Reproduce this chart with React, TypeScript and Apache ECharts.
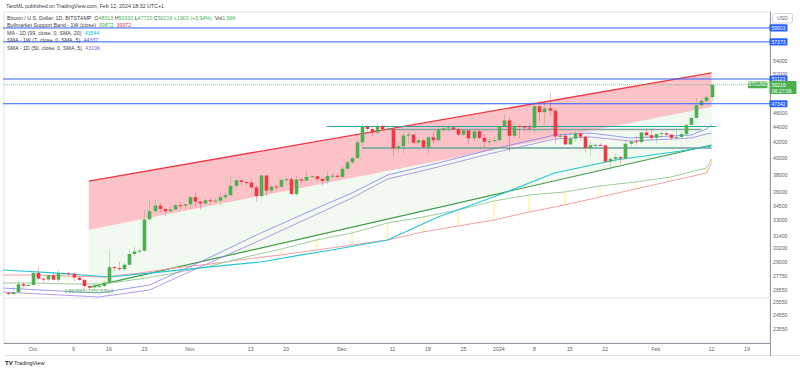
import React, { useEffect, useRef } from 'react';
import * as echarts from 'echarts';

// ---- Candles: daily BTCUSD (Bitstamp), Sep 26 2023 .. Feb 12 2024. Day 0 = Oct 1 2023
const FIRST_DAY = -5;
const opens = [26300,26220,26370,27030,26910,
  26970,27990,27500,27430,27790,27410,27940,27970,27930,27590,27390,26870,26760,26860,26860,27160,28510,28420,28320,28720,29680,29920,29990,33060,33910,34500,34150,33900,34090,34540,34500,
  34650,35420,34940,34730,35080,35040,35040,35420,35640,36690,37310,37130,37060,36500,35550,37880,36160,36600,36580,37370,37450,35760,37420,37290,37720,37800,37480,37260,37830,37860,
  37720,38690,39460,39980,41990,44080,43770,43290,44170,43720,43790,41240,41480,42890,43020,41940,42260,41370,42660,42270,43660,43860,43990,43740,43010,43590,42510,43450,42580,42070,42140,
  42280,44180,44950,42850,44170,44160,43970,43930,46970,46120,46660,46340,42780,42850,41730,42500,43150,42740,41270,41620,41660,41590,39550,39890,40100,39930,41810,42120,42030,43300,42940,
  42580,43080,43200,43010,42580,42700,43090,44340,45300,47130,47770,48313];
const closes = [26220,26370,27030,26910,26970,
  27990,27500,27430,27790,27410,27940,27970,27930,27590,27390,26870,26760,26860,26860,27160,28510,28420,28320,28720,29680,29920,29990,33060,33910,34500,34150,33900,34090,34540,34500,34650,
  35420,34940,34730,35080,35040,35040,35420,35640,36690,37310,37130,37060,36500,35550,37880,36160,36600,36580,37370,37450,35760,37420,37290,37720,37800,37480,37260,37830,37860,37720,
  38690,39460,39980,41990,44080,43770,43290,44170,43720,43790,41240,41480,42890,43020,41940,42260,41370,42660,42270,43660,43860,43990,43740,43010,43590,42510,43450,42580,42070,42140,42280,
  44180,44950,42850,44170,44160,43970,43930,46970,46120,46660,46340,42780,42850,41730,42500,43150,42740,41270,41620,41660,41590,39550,39890,40100,39930,41810,42120,42030,43300,42940,42580,
  43080,43200,43010,42580,42700,43090,44340,45300,47130,47770,48313,50216];
const highs = [26390,26830,27300,27230,27090,
  28070,28590,27670,27830,28120,28290,28020,28110,27990,27730,27480,26940,27100,26980,27280,30000,28600,28960,28900,30200,30340,30200,34000,35200,35110,34800,34240,34460,34740,34860,34700,
  35580,35980,34950,35280,35390,35280,35900,35990,37930,37520,37400,37220,37420,36760,37980,37930,36750,36850,37520,37760,37650,37880,37650,38420,37900,37830,37580,38400,38160,38150,
  38990,39680,40190,42400,44490,44300,44050,44700,44360,44040,43810,42100,43430,43400,43090,42700,42420,42750,43480,44270,44220,44400,44020,43950,43780,43600,43680,43790,43130,42590,42880,
  44200,45900,45500,44770,44360,44200,44500,47250,47900,47700,48970,46510,43260,43090,43360,43560,43200,42930,42170,41860,41880,41670,40110,40510,40280,42210,42200,42840,43320,43880,43750,
  43270,43480,43380,43120,43540,43400,44360,45600,48200,48180,48600,50333];
const lows = [26100,26120,26340,26680,26890,
  26960,27340,27160,27230,27370,27190,27870,27690,27300,27300,26560,26560,26700,26820,26820,27120,28100,28170,28200,28650,29470,29680,29880,32850,33670,33780,33400,33880,34050,34080,34070,
  34110,34350,34100,34580,34600,34750,34530,35120,35540,36350,36730,36750,36360,34950,35360,35540,35880,36210,36400,36950,35750,35650,36870,37250,37620,37150,36750,36900,37620,37520,
  37620,38650,39300,39970,41420,43400,42850,43080,43590,43580,40250,40690,40600,41800,41680,41690,41250,40530,41820,42200,43330,43400,43610,42780,42740,41670,42120,42310,41320,41550,41990,
  42170,44170,40750,42630,42500,43410,43580,43200,44800,44330,45610,41760,42440,41720,41700,42050,42200,40680,40280,41420,41500,39450,38550,39500,39280,39830,41400,41620,41800,42700,42300,
  41880,42580,42890,42260,42260,42580,42790,44330,45250,46820,47560,47720];

// ---- Axes
const xTickDays = [0, 8, 15, 22, 31, 43, 50, 61, 71, 78, 85, 92, 99, 106, 113, 123, 134, 141];
const xTickLabels = ['Oct', '9', '16', '23', 'Nov', '13', '20', 'Dec', '11', '18', '25', '2024', '8', '15', '22', 'Feb', '12', '19'];
const yTickPrices = [54000, 52000, 50000, 46000, 44000, 42000, 40000, 38000, 36000, 34500, 33000, 31400, 30200, 29000, 27750, 26550, 25550, 24550, 23550];

// ---- Levels
const levelPrices = [59903, 57373, 51123, 47342];
const lastPrice = 50216;
const lastTime = '06:27:09';
const greyLinePrice = 25896;

// ---- Regression channel
const regDays = [11, 134];
const regUpper = [37230, 52110];
const regBase = [32000, 46880];
const regLower = [26770, 41650];
const pearson = '0.8605661295030514';

// ---- Indicators
const ma99Days = [-6, 5, 15, 25, 33, 45, 53, 59, 70, 80, 92, 103, 115, 128, 134];
const ma99Vals = [28250, 27980, 27640, 28070, 28430, 28960, 29600, 30060, 31010, 33300, 35660, 38180, 39750, 40880, 41544];
const smaWDays = [-6, 13, 23, 33, 45, 57, 63, 70, 80, 90, 103, 110, 118, 130, 133, 134];
const smaWVals = [26710, 26300, 26960, 28960, 31690, 34460, 35880, 37940, 39380, 41010, 42960, 43230, 42560, 42960, 43770, 44337];
const sma50Days = [-6, 13, 23, 33, 45, 57, 63, 70, 80, 90, 103, 110, 118, 130, 133, 134];
const sma50Vals = [26380, 25980, 26550, 28520, 31010, 33820, 35330, 37470, 38900, 40500, 42430, 42700, 42170, 42560, 43100, 43196];
const bandDays = [-7, 0, 7, 14, 21, 28, 35, 42, 49, 56, 63, 70, 77, 84, 91, 98, 105, 112, 119, 126, 133, 134];
const bandGreen = [27130, 27130, 27050, 27050, 27470, 27980, 28600, 29410, 30150, 31010, 31690, 32690, 33300, 34040, 35000, 35660, 35990, 36670, 37130, 37710, 38780, 39872];
const bandRed = [27810, 27810, 27730, 27640, 27980, 28430, 28780, 29230, 29600, 30060, 30530, 31010, 31790, 32390, 32990, 33820, 34570, 35440, 36330, 37240, 38180, 39372];

// ---- Drawn horizontal lines
const hLineFrom = [58, 70, 65];
const hLineTo = [135, 132, 134];
const hLinePrices = [44110, 43700, 41260];

const FONT = '"Liberation Sans", Arial, sans-serif';
const GREEN = '#4caf50';
const RED = '#f23645';
const BLUE = '#2962ff';
const X_MIN = -5.727, X_MAX = 145.54;
const Y_MIN = 10.0221, Y_MAX = 11.05005;
const ln = Math.log;
const pairs = (d: number[], v: number[]) => d.map((x, i) => [x, ln(v[i])]);

function buildOption(): any {
  const candleData = opens.map((o, i) => [FIRST_DAY + i, ln(o), ln(closes[i]), ln(lows[i]), ln(highs[i])]);
  const lineBase = { type: 'line', symbol: 'none', silent: true, z: 2 };
  const hLineColors = ['#26a69a', '#7fa9a2', '#6aa398'];
  const hLineWidths = [1.2, 1.5, 1.6];
  return {
    animation: false,
    backgroundColor: '#ffffff',
    textStyle: { fontFamily: FONT },
    grid: { left: 4, right: 30, top: 12, bottom: 27, show: true, borderColor: '#e0e3eb', borderWidth: 1 },
    xAxis: {
      type: 'value', min: X_MIN, max: X_MAX,
      axisLine: { show: true, onZero: false, lineStyle: { color: '#9598a1' } },
      axisTick: { show: false }, splitLine: { show: false },
      axisLabel: {
        customValues: xTickDays, fontSize: 5.2, color: '#5d606b', margin: 3, fontFamily: FONT,
        formatter: (v: number) => { const k = xTickDays.indexOf(Math.round(v)); return k >= 0 ? xTickLabels[k] : ''; },
      },
    },
    yAxis: {
      type: 'value', position: 'right', min: Y_MIN, max: Y_MAX,
      axisLine: { show: true, onZero: false, lineStyle: { color: '#9598a1' } },
      axisTick: { show: false }, splitLine: { show: false },
      axisLabel: {
        customValues: yTickPrices.map(ln), fontSize: 5.2, color: '#5d606b', margin: 3, fontFamily: FONT,
        formatter: (v: number) => String(Math.round(Math.exp(v))),
      },
    },
    series: [
      {
        type: 'custom', name: 'regFill', silent: true, z: 1, clip: true,
        encode: { x: 0, y: 1 },
        data: [[regDays[0], ln(regBase[0])]],
        renderItem: (_p: any, api: any) => {
          const pt = (d: number, p: number) => api.coord([d, ln(p)]);
          const u0 = pt(regDays[0], regUpper[0]), u1 = pt(regDays[1], regUpper[1]);
          const b0 = pt(regDays[0], regBase[0]), b1 = pt(regDays[1], regBase[1]);
          const l0 = pt(regDays[0], regLower[0]), l1 = pt(regDays[1], regLower[1]);
          return {
            type: 'group',
            children: [
              { type: 'polygon', shape: { points: [u0, u1, b1, b0] }, style: { fill: 'rgba(242,54,69,0.3)' } },
              { type: 'polygon', shape: { points: [b0, b1, l1, l0] }, style: { fill: 'rgba(76,175,80,0.08)' } },
            ],
          };
        },
      },
      { ...lineBase, name: 'regUpper', z: 2, lineStyle: { color: RED, width: 1.3 }, data: pairs(regDays, regUpper) },
      {
        ...lineBase, name: 'regLower', showSymbol: true,
        lineStyle: { color: '#3f9d43', width: 1.2 },
        data: [
          { value: [regDays[0], ln(regLower[0])], symbol: 'circle', symbolSize: 0.1, itemStyle: { color: '#3f9d43' },
            label: { show: true, position: 'bottom', distance: 1.5, formatter: pearson, color: '#4caf50', fontSize: 5, fontFamily: FONT } },
          [regDays[1], ln(regLower[1])],
        ],
      },
      {
        ...lineBase, name: 'greyLine', z: 1,
        lineStyle: { color: '#e3e5ea', width: 1 },
        data: [[X_MIN - 1, ln(greyLinePrice)], [X_MAX + 1, ln(greyLinePrice)]],
      },
      // bull market support band
      { ...lineBase, name: 'bandRed', lineStyle: { color: '#f4a0a0', width: 1 }, data: pairs(bandDays, bandRed) },
      { ...lineBase, name: 'bandGreen', lineStyle: { color: '#9ccf9c', width: 1 }, data: pairs(bandDays, bandGreen) },
      {
        type: 'custom', name: 'bandFill', silent: true, z: 2, clip: true,
        encode: { x: 0, y: [1, 2] },
        data: bandDays.map((d, i) => [d, ln(bandGreen[i]), ln(bandRed[i])]),
        renderItem: (_p: any, api: any) => {
          const a = api.coord([api.value(0), api.value(1)]);
          const b = api.coord([api.value(0), api.value(2)]);
          return { type: 'line', shape: { x1: a[0], y1: a[1], x2: b[0], y2: b[1] }, style: { stroke: 'rgba(255,235,100,0.55)', lineWidth: 1.6 } };
        },
      },
      { ...lineBase, name: 'ma99', lineStyle: { color: '#26c6da', width: 1.2 }, data: pairs(ma99Days, ma99Vals) },
      { ...lineBase, name: 'smaW', lineStyle: { color: '#8a8af2', width: 1, opacity: 0.85 }, data: pairs(smaWDays, smaWVals) },
      { ...lineBase, name: 'sma50', lineStyle: { color: '#a58be0', width: 1, opacity: 0.85 }, data: pairs(sma50Days, sma50Vals) },
      ...hLinePrices.map((p, i) => ({
        ...lineBase, name: 'h' + i, z: 3,
        lineStyle: { color: hLineColors[i], width: hLineWidths[i] },
        data: [[hLineFrom[i], ln(p)], [hLineTo[i], ln(p)]],
      })),
      {
        type: 'custom', name: 'candles', silent: true, z: 4, clip: true,
        encode: { x: 0, y: [1, 2, 3, 4] },
        data: candleData,
        renderItem: (_p: any, api: any) => {
          const d = api.value(0);
          const o = api.value(1), c = api.value(2), l = api.value(3), h = api.value(4);
          const po = api.coord([d, o]);
          const yc = api.coord([d, c])[1];
          const yl = api.coord([d, l])[1];
          const yh = api.coord([d, h])[1];
          const color = c >= o ? GREEN : RED;
          const x = Math.round(po[0]) + 0.5;
          const top = Math.min(po[1], yc);
          const hgt = Math.max(Math.abs(po[1] - yc), 1);
          return {
            type: 'group',
            children: [
              { type: 'line', shape: { x1: x, y1: yh, x2: x, y2: yl }, style: { stroke: color, lineWidth: 1, opacity: 0.35 } },
              { type: 'rect', shape: { x: x - 1.8, y: top, width: 3.6, height: hgt }, style: { fill: color } },
            ],
          };
        },
      },
      // current price line (dotted)
      {
        ...lineBase, name: 'last', z: 5,
        lineStyle: { color: GREEN, type: 'dotted', width: 1, opacity: 0.7 },
        data: [[X_MIN - 1, ln(lastPrice)], [X_MAX + 1, ln(lastPrice)]],
      },
      // blue horizontal levels
      ...levelPrices.map((p, i) => ({
        ...lineBase, name: 'lvl' + i, z: 6,
        lineStyle: { color: BLUE, width: 1, type: 'solid', opacity: 1 },
        data: [[X_MIN - 1, ln(p)], [X_MAX + 1, ln(p)]],
      })),
    ],
  };
}

function buildGraphics(yLevels: number[], yCur: number): any[] {
  const base = { fontFamily: FONT, fontSize: 5.3, fill: '#3a3d46', verticalAlign: 'middle' };
  const rich = {
    g: { fill: '#3a3d46', fontSize: 5.3, fontFamily: FONT },
    v: { fill: GREEN, fontSize: 5.3, fontFamily: FONT },
    r: { fill: RED, fontSize: 5.3, fontFamily: FONT },
    c: { fill: '#00bcd4', fontSize: 5.3, fontFamily: FONT },
    p: { fill: '#5b5bd6', fontSize: 5.3, fontFamily: FONT },
    q: { fill: '#8e63d8', fontSize: 5.3, fontFamily: FONT },
  };
  const legend = [
    'Bitcoin / U.S. Dollar, 1D, BITSTAMP  {g|O}{v|48313} {g|H}{v|50333} {g|L}{v|47720} {g|C}{v|50216} {v|+1903 (+3.94%)}  {g|Vol}{v|1.96K}',
    'Bullmarket Support Band - 1W (close)  {v|39872}  {r|39372}',
    'MA - 1D (99, close, 0, SMA, 20)  {c|41544}',
    'SMA - 1W (7, close, 0, SMA, 5)  {p|44337}',
    'SMA - 1D (50, close, 0, SMA, 5)  {q|43196}',
  ];
  const legendY = [17.7, 25, 32.7, 40.2, 47.7];
  const levelBoxes = yLevels.flatMap((y, i) => [
    { type: 'rect', z: 100, shape: { x: 769.5, y: y - 3.6, width: 18, height: 7.2, r: 1 }, style: { fill: BLUE } },
    { type: 'text', z: 101, x: 778.5, y: y + 0.2, style: { text: String(levelPrices[i]), fontFamily: FONT, fontSize: 5, fill: '#ffffff', align: 'center', verticalAlign: 'middle' } },
  ]);
  return [
    { type: 'text', x: 6, y: 6, z: 100, style: { ...base, text: 'TaroML published on TradingView.com, Feb 12, 2024 18:32 UTC+1' } },
    ...legend.map((t, i) => ({ type: 'text', x: 7, y: legendY[i], z: 100, style: { ...base, text: t, rich } })),
    { type: 'rect', z: 100, shape: { x: 772.5, y: 13.5, width: 20, height: 9.5, r: 2 }, style: { fill: '#fff', stroke: '#d1d4dc', lineWidth: 1 } },
    { type: 'text', z: 101, x: 782.5, y: 18.3, style: { text: 'USD', fontFamily: FONT, fontSize: 5, fill: '#5d606b', align: 'center', verticalAlign: 'middle' } },
    ...levelBoxes,
    { type: 'rect', z: 100, shape: { x: 769.5, y: yCur - 3.8, width: 27, height: 13, r: 1 }, style: { fill: GREEN } },
    { type: 'text', z: 101, x: 772, y: yCur, style: { text: String(lastPrice), fontFamily: FONT, fontSize: 5, fill: '#ffffff', verticalAlign: 'middle' } },
    { type: 'text', z: 101, x: 772, y: yCur + 5.8, style: { text: lastTime, fontFamily: FONT, fontSize: 5, fill: '#ffffff', verticalAlign: 'middle' } },
    { type: 'rect', z: 100, shape: { x: 748, y: yCur - 3.3, width: 19.5, height: 6.8, r: 1 }, style: { fill: GREEN } },
    { type: 'text', z: 101, x: 757.8, y: yCur + 0.2, style: { text: 'BTCUSD', fontFamily: FONT, fontSize: 4.6, fill: '#ffffff', align: 'center', verticalAlign: 'middle' } },
    { type: 'line', z: 100, shape: { x1: 4, y1: 355.5, x2: 800, y2: 355.5 }, style: { stroke: '#e0e3eb', lineWidth: 1 } },
    { type: 'line', z: 100, shape: { x1: 770.5, y1: 343, x2: 770.5, y2: 356 }, style: { stroke: '#9598a1', lineWidth: 1 } },
    { type: 'text', z: 100, x: 5, y: 363, style: { text: '{b|TV} TradingView', fontFamily: FONT, fontSize: 5.5, fill: '#131722', verticalAlign: 'middle', rich: { b: { fontSize: 6, fontWeight: 'bold', fill: '#131722', fontFamily: FONT } } } },
  ];
}

export default function App() {
  const ref = useRef<HTMLDivElement>(null);
  useEffect(() => {
    const chart = echarts.init(ref.current as HTMLDivElement, null, { renderer: 'svg' });
    chart.setOption(buildOption());
    const toY = (p: number) => chart.convertToPixel({ yAxisIndex: 0 }, ln(p)) as unknown as number;
    chart.setOption({ graphic: buildGraphics(levelPrices.map(toY), toY(lastPrice)) });
    return () => chart.dispose();
  }, []);
  return <div ref={ref} style={{ position: 'fixed', left: 0, top: 0, width: 800, height: 370, background: '#fff' }} />;
}
